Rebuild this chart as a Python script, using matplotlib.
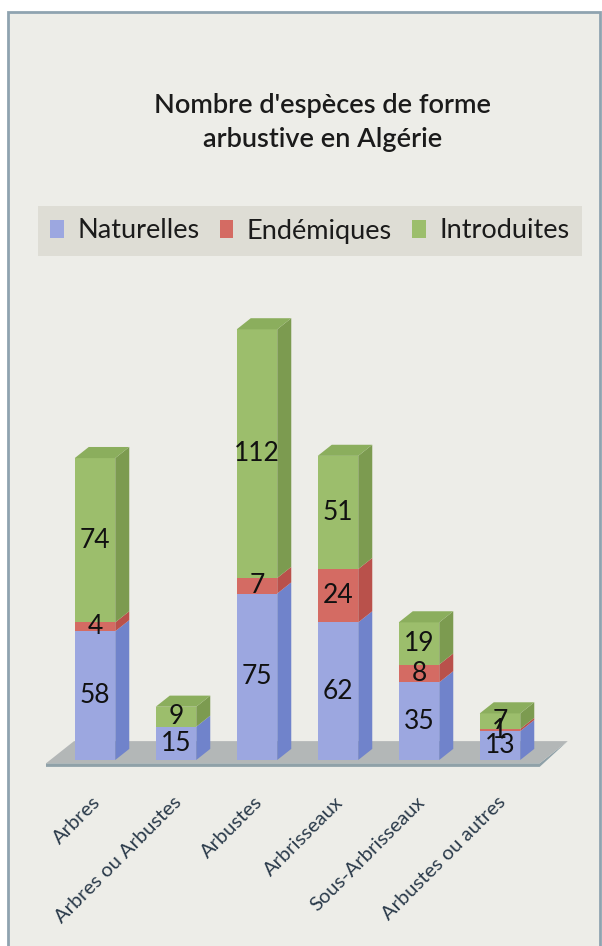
import matplotlib.pyplot as plt
from matplotlib.patches import Polygon, Rectangle, Patch

plt.rcParams['font.family'] = ['Lato', 'DejaVu Sans']

# data
categories = ['Arbres', 'Arbres ou Arbustes', 'Arbustes', 'Arbrisseaux',
              'Sous-Arbrisseaux', 'Arbustes ou autres']
naturelles = [58, 15, 75, 62, 35, 13]
endemiques = [4, 0, 7, 24, 8, 1]
introduites = [74, 9, 112, 51, 19, 7]

series_names = ['Naturelles', 'Endémiques', 'Introduites']
series = [naturelles, endemiques, introduites]

# front, side, top colours for each series
front_col = ['#9CA7E0', '#D46B63', '#9CBE6C']
side_col = ['#7083CB', '#B9514B', '#7C9B50']
top_col = ['#8795D6', '#C85C55', '#8BAE5D']
bg = '#EDEDE8'

fig = plt.figure(figsize=(6.02, 9.46), dpi=100)
fig.patch.set_facecolor('white')

ax = fig.add_axes([0, 0, 1, 1])
ax.set_xlim(-95 / 81, 507 / 81)
ax.set_ylim(-186 / 2.22, 760 / 2.22)
ax.axis('off')
ax.patch.set_alpha(0)

# chart frame
frame = Rectangle((8 / 602, -0.01), 592 / 602, 1.01 - 12 / 946,
                  transform=fig.transFigure, facecolor=bg,
                  edgecolor='#8FA3B0', lw=2, zorder=0)
ax.add_patch(frame)

w = 0.5      # bar width
dx = 0.173   # depth offset (x)
dy = 5.0     # depth offset (y, in values)

# floor
fl, fr = -0.605, 5.49
f0 = -1.5
floor_top = Polygon([(fl, f0), (fr, f0), (fr + 2 * dx, f0 + 2 * dy),
                     (fl + 2 * dx, f0 + 2 * dy)], closed=True,
                    facecolor='#B3B7B7', edgecolor='none', zorder=1)
floor_front = Polygon([(fl, f0 - 1.6), (fr, f0 - 1.6), (fr + 2 * dx, f0 + 2 * dy),
                       (fr, f0), (fl, f0)], closed=True,
                      facecolor='#8FA1A8', edgecolor='none', zorder=1)
ax.add_patch(floor_front)
ax.add_patch(floor_top)

for i in range(len(categories)):
    bottom = 0
    top_idx = max(k for k in range(3) if series[k][i] > 0)
    for k in range(3):
        h = series[k][i]
        if h <= 0:
            continue
        x0 = i - w / 2
        x1 = i + w / 2
        ax.bar(i, h, bottom=bottom, width=w, color=front_col[k], zorder=3)
        side = Polygon([(x1, bottom), (x1 + dx, bottom + dy),
                        (x1 + dx, bottom + h + dy), (x1, bottom + h)],
                       closed=True, facecolor=side_col[k], edgecolor='none', zorder=3)
        ax.add_patch(side)
        if k == top_idx:
            top = Polygon([(x0, bottom + h), (x1, bottom + h),
                           (x1 + dx, bottom + h + dy), (x0 + dx, bottom + h + dy)],
                          closed=True, facecolor=top_col[k], edgecolor='none', zorder=3)
            ax.add_patch(top)
        ax.text(i, bottom + h / 2, str(h), ha='center', va='center',
                fontsize=19, color='#111111', zorder=5)
        bottom += h

# category labels
for i, name in enumerate(categories):
    ax.text(i - 0.04, -15, name, rotation=45, ha='right', va='top',
            rotation_mode='anchor', fontsize=14.5, color='#2a3a4a')

# title
fig.text(323 / 602, 1 - 123 / 946, "Nombre d'espèces de forme\narbustive en Algérie",
         ha='center', va='center', fontsize=19.5, color='#1b1b1b',
         fontweight='semibold', linespacing=1.45)

# legend
handles = [Patch(facecolor=c, edgecolor='none') for c in front_col]
leg = fig.legend(handles, series_names, ncol=3, loc='center',
                 bbox_to_anchor=(310 / 602, 1 - 231 / 946), frameon=True,
                 fancybox=False, fontsize=19.5, handlelength=0.5, handleheight=0.6,
                 handletextpad=0.5, columnspacing=0.75, borderpad=0.45,
                 borderaxespad=0)
leg.get_frame().set_facecolor('#DBD9D1')
leg.get_frame().set_edgecolor('none')
for t in leg.get_texts():
    t.set_color('#1b1b1b')

plt.savefig('out.png', dpi=100)
